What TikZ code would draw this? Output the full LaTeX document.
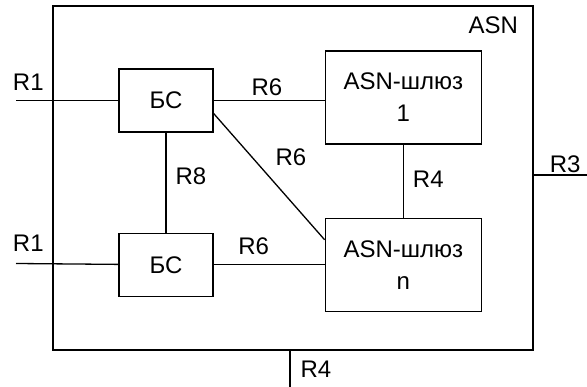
\documentclass[tikz,border=0pt]{standalone}
\usepackage{fontspec}
\setmainfont{Liberation Sans}
\usepackage{tikz}
\usetikzlibrary{positioning}

\begin{document}
\begin{tikzpicture}[x=1pt,y=-1pt,line width=1.3pt,every node/.style={font=\fontsize{24}{32}\selectfont,align=center,inner sep=0pt},
  bsbox/.style={draw,minimum width=94pt,minimum height=63pt},
  gwbox/.style={draw,minimum width=156pt,minimum height=93pt}]
\useasboundingbox (0,0) rectangle (587,387);
\node[draw,minimum width=480pt,minimum height=344pt] (asn) at (293,178) {};
\node[anchor=north east] (asnlbl) at ([shift={(-15pt,-11pt)}]asn.north east) {ASN};
\node[bsbox] (bs1) at (166,100.5) {БС};
\node[bsbox,below=100pt of bs1] (bs2) {БС};
\node[gwbox,right=111pt of bs2] (gwn) {ASN-шлюз\\n};
\node[gwbox,above=73pt of gwn] (gw1) {ASN-шлюз\\1};
\coordinate (r1a) at (16,100.5);
\coordinate (r1b) at (16,263.5);
\coordinate (r3) at (587,175);
\coordinate (r4) at (290,387);
\draw (r1a) -- node[pos=0.12,above=9pt] {R1} (bs1);
\draw (r1b) -- node[pos=0.12,above=11pt] {R1} (bs2);
\draw (bs1) -- node[pos=0.48,above=4pt] {R6} (gw1.west |- bs1);
\draw (bs2) -- node[pos=0.36,above=9pt] {R6} (gwn);
\draw (bs1) -- node[pos=0.44,right=9pt] {R8} (bs2);
\draw (gw1) -- node[pos=0.47,right=9pt] {R4} (gwn);
\draw ([yshift=-13pt]bs1.east) -- ([yshift=25pt]gwn.west);
\node (r6d) at (291,157) {R6};
\draw (asn.east |- r3) -- node[pos=0.59,above=2pt] {R3} (r3);
\draw (asn.south -| r4) -- node[pos=0.5,right=10pt] {R4} (r4);
\end{tikzpicture}
\end{document}
